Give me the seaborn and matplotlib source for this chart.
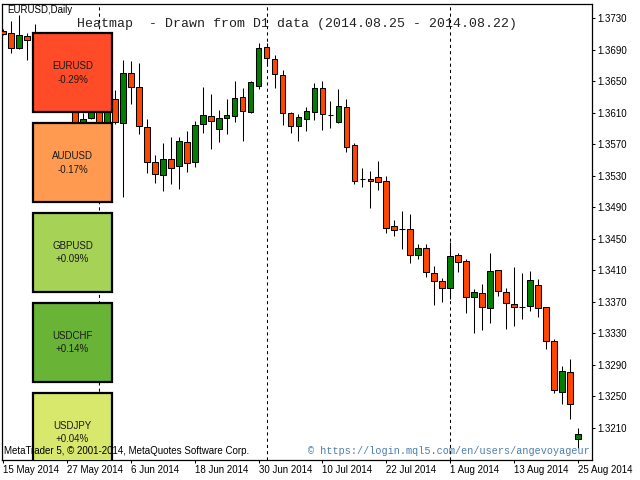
import numpy as np
import pandas as pd
import matplotlib
matplotlib.use("Agg")
import matplotlib.pyplot as plt
from matplotlib.patches import Rectangle
import seaborn as sns

sns.set_theme(style="white")
plt.rcParams['font.family'] = ['Liberation Sans', 'DejaVu Sans']

# EURUSD daily bars, 15 May 2014 .. 25 Aug 2014
opens = [1.3714, 1.3711, 1.3692, 1.3708, 1.3686, 1.3700, 1.3685, 1.3672, 1.3660, 1.3640,
         1.3588, 1.3603, 1.3620, 1.3592, 1.3628, 1.3597, 1.3661, 1.3643, 1.3592, 1.3547,
         1.3531, 1.3551, 1.3542, 1.3573, 1.3547, 1.3596, 1.3606, 1.3589, 1.3603, 1.3606,
         1.3630, 1.3611, 1.3644, 1.3694, 1.3678, 1.3658, 1.3610, 1.3593, 1.3602, 1.3611,
         1.3641, 1.3607, 1.3598, 1.3617, 1.3569, 1.3526, 1.3526, 1.3528, 1.3523, 1.3466,
         1.3462, 1.3462, 1.3429, 1.3438, 1.3407, 1.3396, 1.3387, 1.3429, 1.3422, 1.3376,
         1.3381, 1.3362, 1.3410, 1.3382, 1.3367, 1.3363, 1.3365, 1.3391, 1.3363, 1.3320,
         1.3255, 1.3281, 1.3196]
highs = [1.3716, 1.3727, 1.3734, 1.3711, 1.3723, 1.3705, 1.3692, 1.3680, 1.3668, 1.3645,
         1.3610, 1.3625, 1.3626, 1.3632, 1.3639, 1.3677, 1.3676, 1.3673, 1.3602, 1.3556,
         1.3572, 1.3579, 1.3579, 1.3587, 1.3600, 1.3643, 1.3634, 1.3614, 1.3628, 1.3650,
         1.3641, 1.3650, 1.3699, 1.3699, 1.3683, 1.3664, 1.3611, 1.3608, 1.3617, 1.3648,
         1.3650, 1.3625, 1.3640, 1.3628, 1.3572, 1.3540, 1.3536, 1.3549, 1.3530, 1.3474,
         1.3485, 1.3481, 1.3443, 1.3443, 1.3415, 1.3400, 1.3446, 1.3432, 1.3424, 1.3386,
         1.3393, 1.3432, 1.3410, 1.3387, 1.3414, 1.3407, 1.3409, 1.3399, 1.3363, 1.3323,
         1.3288, 1.3297, 1.3210]
lows = [1.3709, 1.3686, 1.3691, 1.3677, 1.3683, 1.3680, 1.3668, 1.3655, 1.3635, 1.3590,
        1.3582, 1.3602, 1.3588, 1.3589, 1.3596, 1.3503, 1.3621, 1.3583, 1.3534, 1.3521,
        1.3511, 1.3520, 1.3513, 1.3535, 1.3541, 1.3584, 1.3564, 1.3573, 1.3583, 1.3598,
        1.3574, 1.3610, 1.3640, 1.3672, 1.3641, 1.3595, 1.3584, 1.3574, 1.3587, 1.3601,
        1.3588, 1.3591, 1.3597, 1.3560, 1.3520, 1.3516, 1.3489, 1.3512, 1.3457, 1.3454,
        1.3437, 1.3419, 1.3424, 1.3401, 1.3366, 1.3370, 1.3374, 1.3408, 1.3356, 1.3330,
        1.3334, 1.3343, 1.3377, 1.3335, 1.3339, 1.3348, 1.3358, 1.3351, 1.3310, 1.3254,
        1.3240, 1.3221, 1.3184]
closes = [1.3710, 1.3692, 1.3709, 1.3702, 1.3700, 1.3685, 1.3672, 1.3660, 1.3640, 1.3595,
          1.3602, 1.3620, 1.3592, 1.3627, 1.3598, 1.3661, 1.3643, 1.3593, 1.3547, 1.3532,
          1.3551, 1.3540, 1.3574, 1.3546, 1.3595, 1.3607, 1.3600, 1.3603, 1.3607, 1.3629,
          1.3612, 1.3649, 1.3692, 1.3680, 1.3659, 1.3610, 1.3593, 1.3605, 1.3612, 1.3641,
          1.3608, 1.3607, 1.3619, 1.3567, 1.3523, 1.3526, 1.3523, 1.3522, 1.3464, 1.3461,
          1.3462, 1.3429, 1.3438, 1.3408, 1.3396, 1.3387, 1.3428, 1.3421, 1.3376, 1.3382,
          1.3363, 1.3409, 1.3384, 1.3368, 1.3363, 1.3363, 1.3398, 1.3362, 1.3320, 1.3258,
          1.3282, 1.3240, 1.3202]

tick_pos = [0, 8, 16, 24, 32, 40, 48, 56, 64, 72]
tick_labels = ["15 May 2014", "27 May 2014", "6 Jun 2014", "18 Jun 2014", "30 Jun 2014",
               "10 Jul 2014", "22 Jul 2014", "1 Aug 2014", "13 Aug 2014", "25 Aug 2014"]
month_starts = [12, 33, 56]
price_ticks = [1.3210, 1.3250, 1.3290, 1.3330, 1.3370, 1.3410, 1.3450, 1.3490,
               1.3530, 1.3570, 1.3610, 1.3650, 1.3690, 1.3730]

# heatmap panel
pairs = ["EURUSD", "AUDUSD", "GBPUSD", "USDCHF", "USDJPY"]
changes = ["-0.29%", "-0.17%", "+0.09%", "+0.14%", "+0.04%"]
box_colors = ["#FF4B28", "#FF9A50", "#A6D256", "#69B437", "#D8E86C"]

df = pd.DataFrame({"open": opens, "high": highs, "low": lows, "close": closes})
df["x"] = np.arange(len(df))

W, H = 640, 480
fig = plt.figure(figsize=(6.4, 4.8), dpi=100)
ax = fig.add_axes([2 / W, 20 / H, 590 / W, 456 / H])

up = "#008000"
down = "#FF4500"

# month separators
for m in month_starts:
    ax.axvline(m, color="black", lw=0.75, ls=(0, (3, 3)), zorder=1)

# wicks
ax.vlines(df["x"], df["low"], df["high"], color="black", lw=0.75, zorder=2)

# bodies
body_lo = df[["open", "close"]].min(axis=1)
body_h = (df["close"] - df["open"]).abs().clip(lower=0.00004)
cols = [up if c > o else down for o, c in zip(df["open"], df["close"])]
ax.bar(df["x"], body_h, bottom=body_lo, width=0.72, color=cols,
       edgecolor="black", linewidth=0.75, zorder=3)

ax.set_xlim(-0.125, 73.75)
ax.set_ylim(1.316904, 1.374816)

ax.yaxis.tick_right()
ax.set_yticks(price_ticks)
ax.set_yticklabels([f"{p:.4f}" for p in price_ticks])
ax.set_xticks(tick_pos)
ax.set_xticklabels(tick_labels, ha="left")
ax.tick_params(axis="both", which="both", direction="out", colors="black",
               labelsize=7, length=2.5, width=0.75, pad=1)
ax.tick_params(axis="y", left=False, right=True)
ax.tick_params(axis="x", bottom=True)
for s in ax.spines.values():
    s.set_color("black")
    s.set_linewidth(0.9)
ax.grid(False)

# heatmap boxes (pixel layout -> axes coords)
def ax_xy(px, py):
    return (px - 2) / 590, (460 - py) / 456

for i, (name, chg, c) in enumerate(zip(pairs, changes, box_colors)):
    top = 33 + 90 * i
    x0, y0 = ax_xy(33, top + 79)
    ax.add_patch(Rectangle((x0, y0), 79 / 590, 79 / 456, transform=ax.transAxes,
                           facecolor=c, edgecolor="black", lw=1.6, zorder=5))
    cx, cy = ax_xy(72.5, top + 33)
    ax.text(cx, cy, name, transform=ax.transAxes, ha="center", va="center",
            fontsize=7, color="#1a1a1a", zorder=6)
    cx, cy = ax_xy(72.5, top + 46.5)
    ax.text(cx, cy, chg, transform=ax.transAxes, ha="center", va="center",
            fontsize=7, color="#1a1a1a", zorder=6)

# overlay texts
fig.text(7 / W, 1 - 10 / H, "EURUSD,Daily", fontsize=7, color="black",
         ha="left", va="center")
fig.text(77 / W, 1 - 24 / H, "Heatmap  - Drawn from D1 data (2014.08.25 - 2014.08.22)",
         family="Liberation Mono", fontsize=9.5, color="#222222", ha="left", va="center",
         zorder=7)
fig.text(4 / W, 1 - 451 / H, "MetaTrader 5, \u00a9 2001-2014, MetaQuotes Software Corp.",
         fontsize=7, color="black", ha="left", va="center", zorder=7)
fig.text(590 / W, 1 - 451 / H, "\u00a9 https://login.mql5.com/en/users/angevoyageur",
         family="Liberation Mono", fontsize=7.3, color="#4A7FAE", ha="right", va="center",
         zorder=7)

fig.savefig("out.png", dpi=100)
